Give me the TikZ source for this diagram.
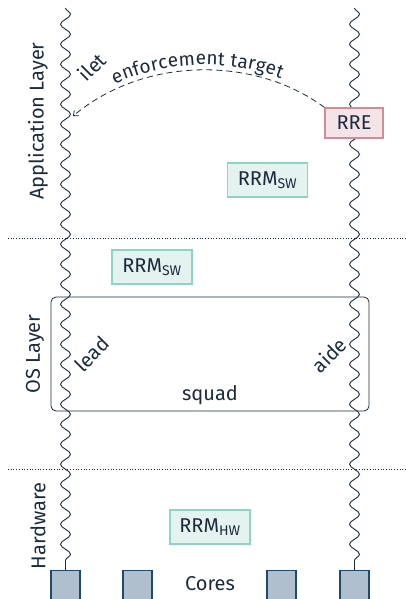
\documentclass[tikz,border=0pt]{standalone}
\usepackage{fontspec}
\setmainfont{Fira Sans}
\usetikzlibrary{decorations.pathmorphing,decorations.text,arrows.meta}
\definecolor{ink}{HTML}{1B2B3C}
\definecolor{greenfill}{HTML}{E5F3F0}
\definecolor{greenline}{HTML}{8ED4C2}
\definecolor{pinkfill}{HTML}{F4E4E8}
\definecolor{pinkline}{HTML}{D28C97}
\definecolor{corefill}{HTML}{B0BFCD}
\definecolor{coreline}{HTML}{1E4A6E}
\begin{document}
\begin{tikzpicture}[x=1pt,y=-1pt, font=\fontsize{20}{24}\selectfont, text=ink,
 wavy/.style={draw=ink, line width=0.9pt, decorate, decoration={snake, amplitude=5pt, segment length=20pt}},
 rrm/.style={draw=greenline, fill=greenfill, line width=1.2pt, minimum width=80pt, minimum height=34pt, inner sep=0pt},
 rre/.style={draw=pinkline, fill=pinkfill, line width=1.2pt, minimum width=58pt, minimum height=30pt, inner sep=0pt},
 core/.style={draw=coreline, fill=corefill, line width=1.2pt, minimum size=29pt, inner sep=0pt},
 layer/.style={rotate=90},
 diag/.style={rotate=45},
 sep/.style={draw=ink, dotted, line width=0.7pt},
]
\useasboundingbox (0,0) rectangle (406,599);
% separators
\coordinate (s1a) at (8,238); \coordinate (s1b) at (406,238);
\coordinate (s2a) at (8,469); \coordinate (s2b) at (406,469);
\draw[sep] (s1a) -- (s1b);
\draw[sep] (s2a) -- (s2b);
% layer labels
\node[layer] (app) at (38,121) {Application Layer};
\node[layer] (os) at (35,354) {OS Layer};
\node[layer] (hw) at (38,526) {Hardware};
% cores
\node[core] (c1) at (65.5,585) {};
\node[core] (c2) at (137.5,585) {};
\node[core] (c3) at (281.5,585) {};
\node[core] (c4) at (354.5,585) {};
\node (cores) at (210,584) {Cores};
% squad
\node[draw=ink, rounded corners=5pt, line width=0.8pt, minimum width=318pt, minimum height=114pt] (squad) at (210,354) {};
\node (squadlbl) at (210,395) {squad};
% wavy lines
\coordinate (lt) at (65.5,8);
\coordinate (rt) at (354.5,8);
\draw[wavy] (lt) -- (c1.north);
\draw[wavy] (rt) -- (c4.north);
% boxes
\node[rre] (rre) at (354,123) {RRE};
\node[rrm] (rrm1) at (267.5,180) {RRM\textsubscript{SW}};
\node[rrm] (rrm2) at (152,267) {RRM\textsubscript{SW}};
\node[rrm] (rrm3) at (210,527) {RRM\textsubscript{HW}};
% diagonal labels
\node[diag] (ilet) at (92,67) {ilet};
\node[diag] (lead) at (92,354) {lead};
\node[diag] (aide) at (329,355) {aide};
% enforcement arrow
\coordinate (tgt) at (73,116);
\draw[ink, dashed, line width=0.8pt, dash pattern=on 6pt off 4pt, -{Straight Barb[length=4pt,width=7pt]}] (rre.north west) .. controls (255,56) and (145,56) .. (tgt);
\path[decorate, decoration={text along path, text={|\fontsize{19}{22}\selectfont\color{ink}|enforcement target}, text align=center, raise=5pt}] (tgt) .. controls (145,56) and (255,56) .. (rre.north west);
\end{tikzpicture}
\end{document}
